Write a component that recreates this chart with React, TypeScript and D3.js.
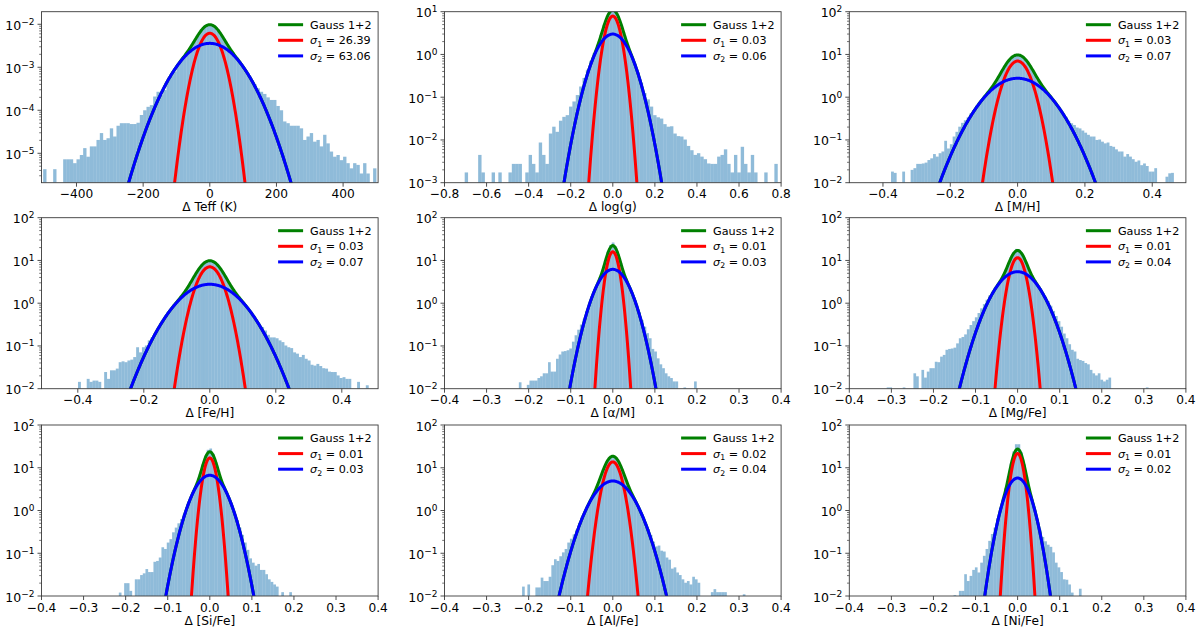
import React from "react";
import * as d3 from "d3";

// ---------- data ----------
const xLabels = ["Δ Teff (K)", "Δ log(g)", "Δ [M/H]", "Δ [Fe/H]", "Δ [α/M]", "Δ [Mg/Fe]", "Δ [Si/Fe]", "Δ [Al/Fe]", "Δ [Ni/Fe]"];
const sigma1Labels = ["26.39", "0.03", "0.03", "0.03", "0.01", "0.01", "0.01", "0.02", "0.01"];
const sigma2Labels = ["63.06", "0.06", "0.07", "0.07", "0.03", "0.04", "0.03", "0.04", "0.02"];
// fitted gaussian widths and peak heights
const sigma1 = [26.39, 0.027, 0.0288, 0.0297, 0.0111, 0.0143, 0.0113, 0.0158, 0.0105];
const sigma2 = [63.06, 0.058, 0.069, 0.0716, 0.0286, 0.039, 0.029, 0.0363, 0.0219];
const peak1 = [6.2e-3, 7.9, 7.0, 7.1, 16, 11.6, 17, 13.7, 21.6];
const peak2 = [3.6e-3, 3.0, 2.77, 2.77, 6.2, 5.46, 6.67, 4.9, 5.75];

const xDomains = [[-505, 505], [-0.8, 0.8], [-0.5, 0.5], [-0.51, 0.51], [-0.4, 0.4], [-0.4, 0.4], [-0.4, 0.4], [-0.4, 0.4], [-0.4, 0.4]];
const yDomains = [[2.07e-6, 1.96e-2], [1e-3, 1e1], [1e-2, 1e2], [1e-2, 1e2], [1e-2, 1e2], [1e-2, 1e2], [1e-2, 1e2], [1e-2, 1e2], [1e-2, 1e2]];
const ticksTeff = [-400, -200, 0, 200, 400];
const ticksLogg = [-0.8, -0.6, -0.4, -0.2, 0.0, 0.2, 0.4, 0.6, 0.8];
const ticksMet = [-0.4, -0.2, 0.0, 0.2, 0.4];
const ticksAbund = [-0.4, -0.3, -0.2, -0.1, 0.0, 0.1, 0.2, 0.3, 0.4];
const xTicks = [ticksTeff, ticksLogg, ticksMet, ticksMet, ticksAbund, ticksAbund, ticksAbund, ticksAbund, ticksAbund];
const tickDecimals = [0, 1, 1, 1, 1, 1, 1, 1, 1];

const binStart = [-500, -0.8, -0.376, -0.3994, -0.2233, -0.3111, -0.2162, -0.2156, -0.1522];
const binWidth = [10, 0.016, 0.00832, 0.00881, 0.00631, 0.00635, 0.00633, 0.00632, 0.00634];

// histogram densities, given as log10 of the bar height (null = empty bin)
const teffLog10 = [-5.37, null, null, -5.37, null, null, -5.14, -5.14, -5.14, -5.23,
  -5.14, -5.04, -4.88, -5.08, -4.84, -4.84, -4.69, -4.53, -4.69, -4.65,
  -4.42, -4.61, -4.36, -4.30, -4.30, -4.30, -4.32, -4.32, -4.29, -4.11,
  -4.0, -3.92, -3.88, -3.68, -3.57, -3.64, -3.53, -3.32, -3.2, -3.1,
  -2.95, -2.85, -2.73, -2.63, -2.51, -2.38, -2.26, -2.15, -2.07, -2.02,
  -2.02, -2.07, -2.15, -2.26, -2.38, -2.51, -2.63, -2.73, -2.85, -2.95,
  -3.06, -3.18, -3.29, -3.39, -3.49, -3.57, -3.62, -3.7, -3.76, -3.76,
  -3.9, -4.0, -4.26, -4.3, -4.36, -4.36, -4.36, -4.42, -4.69, -4.61,
  -4.53, -4.73, -4.69, -4.84, -4.57, -4.77, -4.96, -5.08, -5.04, -5.16,
  -5.08, -5.23, -5.35, -5.23, -5.27, -5.47, -5.23, -5.47, null, -5.35];
const loggLog10 = [null, null, null, null, null, null, -2.76, null, null, null,
  -2.35, -2.76, null, null, -2.76, null, -2.76, null, null, -2.76,
  -2.56, -2.56, -2.56, null, -2.76, -2.35, -2.56, -2.76, -2.06, -2.35,
  -2.56, -1.85, -1.69, -1.81, -1.55, -1.46, -1.42, -1.22, -1.1, -0.95,
  -0.75, -0.55, -0.36, -0.15, 0.03, 0.22, 0.45, 0.69, 0.89, 1.0,
  1.0, 0.89, 0.69, 0.44, 0.2, 0.0, -0.2, -0.42, -0.66, -0.9,
  -1.05, -1.22, -1.42, -1.47, -1.5, -1.63, -1.69, -1.68, -1.85, -1.91,
  -1.92, -1.99, -2.14, -2.24, -2.35, -2.31, -2.39, -2.45, -2.55, -2.56,
  -2.56, -2.39, -2.35, -2.22, -2.56, -2.76, -2.35, -2.76, -2.16, -2.56,
  -2.76, -2.35, -2.76, null, null, -2.76, null, null, -2.56, null];
const mhLog10 = [-1.74, -1.77, null, null, -1.74, null, null, -1.70, -1.66, -1.56,
  -1.56, -1.55, -1.53, -1.47, -1.43, -1.33, -1.39, -1.31, -1.27, -1.02,
  -1.2, -1.1, -0.92, -0.81, -0.69, -0.6, -0.54, -0.47, -0.38, -0.3,
  -0.2, -0.12, -0.05, 0.02, 0.1, 0.18, 0.27, 0.37, 0.48, 0.59,
  0.7, 0.8, 0.88, 0.94, 0.97, 0.98, 0.96, 0.91, 0.83, 0.74,
  0.63, 0.52, 0.41, 0.31, 0.21, 0.13, 0.05, -0.05, -0.13, -0.21,
  -0.3, -0.38, -0.46, -0.55, -0.61, -0.65, -0.71, -0.73, -0.78, -0.83,
  -0.88, -0.92, -0.92, -1.0, -0.99, -1.04, -1.08, -1.06, -1.14, -1.16,
  -1.22, -1.27, -1.27, -1.39, -1.33, -1.39, -1.45, -1.51, -1.48, -1.59,
  -1.55, -1.61, -1.74, -1.74, -1.66, null, null, null, -1.86, -1.78,
  -1.77];
const fehLog10 = [-1.84, null, null, -1.77, -1.84, -1.81, -1.81, -1.84, null, -1.61,
  -1.77, -1.57, -1.57, -1.53, -1.38, -1.36, -1.38, -1.34, -1.32, -1.26,
  -1.03, -1.15, -1.03, -0.99, -0.87, -0.8, -0.72, -0.6, -0.49, -0.38,
  -0.28, -0.18, -0.1, -0.02, 0.06, 0.14, 0.23, 0.33, 0.44, 0.56,
  0.67, 0.78, 0.87, 0.93, 0.97, 0.98, 0.96, 0.91, 0.84, 0.75,
  0.64, 0.52, 0.41, 0.3, 0.2, 0.12, 0.03, -0.05, -0.13, -0.22,
  -0.32, -0.43, -0.51, -0.56, -0.64, -0.74, -0.8, -0.8, -0.82, -0.87,
  -0.91, -0.99, -1.03, -1.05, -1.15, -1.18, -1.26, -1.21, -1.3, -1.34,
  -1.44, -1.46, -1.42, -1.47, -1.52, -1.53, -1.6, -1.61, -1.61, -1.69,
  -1.75, -1.73, -1.77, -1.77, null, null, -1.84, null, null, -1.92];
const alphaLog10 = [-1.85, null, null, -1.91, -1.81, -1.81, -1.81, -1.75, -1.71, -1.64,
  -1.64, -1.38, -1.6, -1.6, -1.3, -1.2, -1.13, -1.12, -1.1, -1.06,
  -0.9, -0.75, -0.62, -0.5, -0.38, -0.2, 0.0, 0.17, 0.32, 0.46,
  0.61, 0.78, 0.99, 1.2, 1.36, 1.42, 1.33, 1.15, 0.94, 0.74,
  0.58, 0.43, 0.29, 0.13, -0.04, -0.22, -0.4, -0.55, -0.7, -0.82,
  -1.07, -1.13, -1.29, -1.43, -1.52, -1.64, -1.71, -1.75, -1.83, -1.83,
  null, null, -1.97, null, null, null, -1.83];
const mgLog10 = [-1.97, -1.97, null, null, null, null, -1.97, null, null, null,
  -1.64, -1.71, null, -1.56, -1.74, -1.6, -1.52, -1.52, -1.37, -1.38,
  -1.25, -1.21, -1.09, -1.07, -1.06, -1.04, -0.94, -0.82, -0.79, -0.73,
  -0.61, -0.51, -0.42, -0.33, -0.23, -0.12, -0.02, 0.08, 0.18, 0.27,
  0.36, 0.45, 0.54, 0.65, 0.78, 0.93, 1.08, 1.2, 1.27, 1.26,
  1.19, 1.07, 0.92, 0.78, 0.65, 0.54, 0.45, 0.35, 0.25, 0.15,
  0.05, -0.06, -0.18, -0.3, -0.42, -0.55, -0.71, -0.82, -0.96, -1.09,
  -1.13, -1.3, -1.33, -1.35, -1.4, -1.43, -1.56, -1.64, -1.69, -1.64,
  -1.79, -1.83, -1.79, -1.74, null, null, null, null, null, null,
  null, null, null, null, null, null, null, -1.97];
const siLog10 = [-1.92, null, -1.7, -1.7, -1.88, null, -1.61, -1.61, -1.51, -1.47,
  -1.37, -1.44, -1.44, -1.2, -1.18, -1.1, -0.86, -0.9, -0.75, -0.67,
  -0.51, -0.4, -0.3, -0.2, -0.08, 0.07, 0.23, 0.38, 0.52, 0.67,
  0.86, 1.08, 1.28, 1.42, 1.45, 1.33, 1.13, 0.92, 0.72, 0.57,
  0.43, 0.28, 0.12, -0.05, -0.22, -0.4, -0.57, -0.75, -0.92, -1.12,
  -1.22, -1.29, -1.25, -1.39, -1.39, -1.49, -1.61, -1.67, -1.73, -1.78,
  null, -1.91, null, null, -1.91];
const alLog10 = [-1.78, null, -1.73, null, null, -1.8, -1.8, -1.57, -1.65, -1.65,
  -1.55, -1.28, -1.14, -1.18, -1.07, -0.98, -0.9, -0.75, -0.66, -0.56,
  -0.45, -0.3, -0.15, -0.03, 0.09, 0.21, 0.33, 0.46, 0.61, 0.77,
  0.94, 1.09, 1.19, 1.25, 1.26, 1.21, 1.11, 0.97, 0.81, 0.64,
  0.49, 0.35, 0.23, 0.11, -0.02, -0.15, -0.31, -0.43, -0.57, -0.73,
  -0.84, -0.82, -0.94, -0.96, -1.1, -1.15, -1.36, -1.33, -1.45, -1.51,
  -1.61, -1.69, -1.65, -1.73, -1.55, -1.61, -1.69, null, null, null,
  null, -1.91, -1.84, -1.91, -1.91, -1.91, -1.91, null, null, null,
  null, null, null, -1.96];
const niLog10 = [-1.98, null, -1.88, -1.88, -1.49, -1.65, -1.53, -1.39, -1.33, -1.45,
  -1.22, -1.06, -0.9, -0.71, -0.55, -0.4, -0.18, 0.05, 0.28, 0.52,
  0.8, 1.1, 1.38, 1.55, 1.55, 1.36, 1.08, 0.79, 0.5, 0.26,
  0.02, -0.22, -0.45, -0.62, -0.72, -0.8, -0.85, -0.98, -1.22, -1.33,
  -1.44, -1.61, -1.62, -1.73, -1.92, null, null, -1.83];
const histograms = [teffLog10, loggLog10, mhLog10, fehLog10, alphaLog10, mgLog10, siLog10, alLog10, niLog10];

// ---------- layout ----------
const colX = [41.5, 444.5, 849.3];
const rowY = [11.7, 217.7, 425];
const PW = 336.6;
const PH = 171;
const FONT = "DejaVu Sans, sans-serif";
const FS = 12.2;
const minus = (s: string) => s.replace("-", "\u2212");

function Panel({ i }: { i: number }) {
  const x0 = colX[i % 3];
  const y0 = rowY[Math.floor(i / 3)];
  const x = d3.scaleLinear().domain(xDomains[i]).range([x0, x0 + PW]);
  const y = d3.scaleLog().domain(yDomains[i]).range([y0 + PH, y0]);
  const yMin = yDomains[i][0];
  const bottom = y0 + PH;
  const clipId = `clip${i}`;

  const hist = histograms[i];
  const bars = hist.map((v, k) => {
    if (v === null) return null;
    const a = x(binStart[i] + k * binWidth[i]);
    const b = x(binStart[i] + (k + 1) * binWidth[i]);
    const top = y(Math.pow(10, v));
    return <rect key={k} x={a} width={b - a} y={top} height={Math.max(0, bottom - top)} fill="#1f77b4" fillOpacity={0.5} />;
  });

  const [d0, d1] = xDomains[i];
  const xs = d3.range(0, 601).map((j) => d0 + ((d1 - d0) * j) / 600);
  const g1 = (t: number) => peak1[i] * Math.exp(-(t * t) / (2 * sigma1[i] * sigma1[i]));
  const g2 = (t: number) => peak2[i] * Math.exp(-(t * t) / (2 * sigma2[i] * sigma2[i]));
  const mk = (f: (t: number) => number) =>
    d3
      .line<number>()
      .x((t) => x(t))
      .y((t) => y(Math.max(f(t), yMin * 1e-3)))(xs) || "";

  // y ticks
  const lo = Math.log10(yDomains[i][0]);
  const hi = Math.log10(yDomains[i][1]);
  const majors: number[] = [];
  const minors: number[] = [];
  for (let e = Math.floor(lo); e <= Math.ceil(hi); e++) {
    if (e >= lo - 1e-9 && e <= hi + 1e-9) majors.push(e);
    for (let m = 2; m <= 9; m++) {
      const lv = e + Math.log10(m);
      if (lv >= lo && lv <= hi) minors.push(Math.pow(10, lv));
    }
  }

  const legendItems = [
    { color: "green", kind: 0 },
    { color: "red", kind: 1 },
    { color: "blue", kind: 2 },
  ];
  const right = x0 + PW;

  return (
    <g>
      <defs>
        <clipPath id={clipId}>
          <rect x={x0} y={y0} width={PW} height={PH} />
        </clipPath>
      </defs>
      <g clipPath={`url(#${clipId})`}>
        {bars}
        <path d={mk((t) => g1(t) + g2(t))} fill="none" stroke="green" strokeWidth={3} />
        <path d={mk(g1)} fill="none" stroke="red" strokeWidth={3} />
        <path d={mk(g2)} fill="none" stroke="blue" strokeWidth={3} />
      </g>
      {/* frame */}
      <rect x={x0} y={y0} width={PW} height={PH} fill="none" stroke="#3a3a3a" strokeWidth={0.9} />
      {/* x ticks */}
      {xTicks[i].map((t) => (
        <g key={`xt${t}`}>
          <line x1={x(t)} x2={x(t)} y1={bottom} y2={bottom + 4} stroke="#3a3a3a" strokeWidth={0.9} />
          <text x={x(t)} y={bottom + 15.5} textAnchor="middle" fontFamily={FONT} fontSize={FS} fill="#000">
            {minus(t.toFixed(tickDecimals[i]))}
          </text>
        </g>
      ))}
      {/* y ticks */}
      {minors.map((v, k) => (
        <line key={`mn${k}`} x1={x0 - 2.3} x2={x0} y1={y(v)} y2={y(v)} stroke="#3a3a3a" strokeWidth={0.7} />
      ))}
      {majors.map((e) => (
        <g key={`yt${e}`}>
          <line x1={x0 - 4} x2={x0} y1={y(Math.pow(10, e))} y2={y(Math.pow(10, e))} stroke="#3a3a3a" strokeWidth={0.9} />
          <text x={x0 - 7} y={y(Math.pow(10, e)) + 5.5} textAnchor="end" fontFamily={FONT} fontSize={12.5} fill="#000">
            10
            <tspan dy={-5} fontSize={9}>
              {minus(String(e))}
            </tspan>
          </text>
        </g>
      ))}
      {/* x label */}
      <text x={x0 + PW / 2} y={bottom + 28.5} textAnchor="middle" fontFamily={FONT} fontSize={FS} fill="#000">
        {xLabels[i]}
      </text>
      {/* legend */}
      {legendItems.map((it, k) => {
        const cy = y0 + 13 + k * 15.6;
        return (
          <g key={`lg${k}`}>
            <line x1={right - 100} x2={right - 75} y1={cy} y2={cy} stroke={it.color} strokeWidth={3} />
            <text x={right - 68} y={cy + 4} fontFamily={FONT} fontSize={11.2} fill="#000">
              {it.kind === 0 ? (
                "Gauss 1+2"
              ) : (
                <>
                  <tspan fontStyle="italic">σ</tspan>
                  <tspan fontSize={7.8} dy={2.5}>
                    {it.kind === 1 ? "1" : "2"}
                  </tspan>
                  <tspan dy={-2.5}>{` = ${it.kind === 1 ? sigma1Labels[i] : sigma2Labels[i]}`}</tspan>
                </>
              )}
            </text>
          </g>
        );
      })}
    </g>
  );
}

export default function App() {
  return (
    <svg
      width={1200}
      height={628}
      viewBox="0 0 1200 628"
      style={{ position: "absolute", left: 0, top: 0, background: "#fff" }}
    >
      <rect x={0} y={0} width={1200} height={628} fill="#fff" />
      {d3.range(9).map((i) => (
        <Panel key={i} i={i} />
      ))}
    </svg>
  );
}
